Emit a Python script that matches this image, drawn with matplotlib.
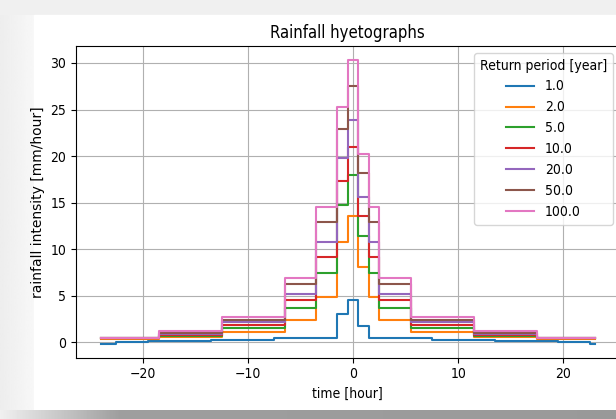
import numpy as np
import matplotlib
matplotlib.use('Agg')
import matplotlib.pyplot as plt
from matplotlib.patches import Rectangle

# step edges (hours) for the design storms and for the 1-year storm
edges = [-24, -18.5, -12.5, -6.5, -3.5, -1.5, -0.5, 0.5, 1.5, 2.5, 5.5, 11.5, 17.5, 23]
edges_1yr = [-24, -22.5, -19.5, -13.5, -7.5, -1.5, -0.5, 0.5, 1.5, 7.5, 13.5, 19.5, 22.5, 23]

periods = [1.0, 2.0, 5.0, 10.0, 20.0, 50.0, 100.0]

# intensities [mm/hour], one value per interval
i_1 = [-0.12, 0.0, 0.18, 0.3, 0.45, 3.1, 4.5, 1.8, 0.45, 0.3, 0.18, 0.0, -0.12]
i_2 = [0.42, 0.54, 1.07, 2.43, 4.9, 10.8, 13.6, 8.1, 4.9, 2.43, 1.07, 0.54, 0.42]
i_5 = [0.44, 0.68, 1.54, 3.68, 7.5, 14.7, 18.0, 11.4, 7.5, 3.68, 1.54, 0.68, 0.44]
i_10 = [0.45, 0.79, 1.82, 4.54, 9.2, 17.3, 21.0, 13.6, 9.2, 4.54, 1.82, 0.79, 0.45]
i_20 = [0.46, 0.89, 2.14, 5.25, 10.8, 19.8, 23.9, 15.6, 10.8, 5.25, 2.14, 0.89, 0.46]
i_50 = [0.48, 1.0, 2.43, 6.25, 12.9, 22.9, 27.5, 18.2, 12.9, 6.25, 2.43, 1.0, 0.48]
i_100 = [0.5, 1.18, 2.68, 6.96, 14.5, 25.3, 30.3, 20.2, 14.5, 6.96, 2.68, 1.18, 0.5]

series = [i_1, i_2, i_5, i_10, i_20, i_50, i_100]

fig = plt.figure(figsize=(6.16, 4.19), dpi=100)
W, H = 616.0, 419.0

# screenshot-like backdrop: grey surround, white card, shadow at the bottom
fig.patches.append(Rectangle((0, 0), 1, 1, transform=fig.transFigure,
                             color='#f0f0f0', zorder=-10))
fig.patches.append(Rectangle((34 / W, 9 / H), 1, (404 - 9) / H, transform=fig.transFigure,
                             color='white', zorder=-9))
shade = np.concatenate([np.linspace(0.94, 0.62, 120), np.linspace(0.62, 0.6, 496)])
sh = fig.add_axes([0, 0, 1, 9 / H], zorder=-8)
sh.imshow(shade[None, :], cmap='gray', vmin=0, vmax=1,
          aspect='auto', extent=(0, 1, 0, 1))
sh.axis('off')
lf = fig.add_axes([0, 9 / H, 34 / W, 395 / H], zorder=-8)
lf.imshow(np.linspace(0.93, 0.97, 50)[None, :], cmap='gray', vmin=0, vmax=1,
          aspect='auto', extent=(0, 1, 0, 1))
lf.axis('off')

cond = dict(fontstretch='condensed')

ax = fig.add_axes([76 / W, 61.3 / H, 543.5 / W, 311.7 / H])
for p, vals in zip(periods, series):
    e = edges_1yr if p == 1.0 else edges
    ax.plot(e, np.append(vals, vals[-1]), drawstyle='steps-post', label=str(p))

ax.grid(True)
ax.set_title('Rainfall hyetographs', **cond)
ax.set_xlabel('time [hour]', **cond)
ax.set_ylabel('rainfall intensity [mm/hour]')
for lab in ax.get_xticklabels() + ax.get_yticklabels():
    lab.set_fontstretch('condensed')
leg = ax.legend(title='Return period [year]', loc='upper right',
                prop={'stretch': 'condensed'})
leg.get_title().set_fontstretch('condensed')

fig.savefig('out.png', dpi=100)
